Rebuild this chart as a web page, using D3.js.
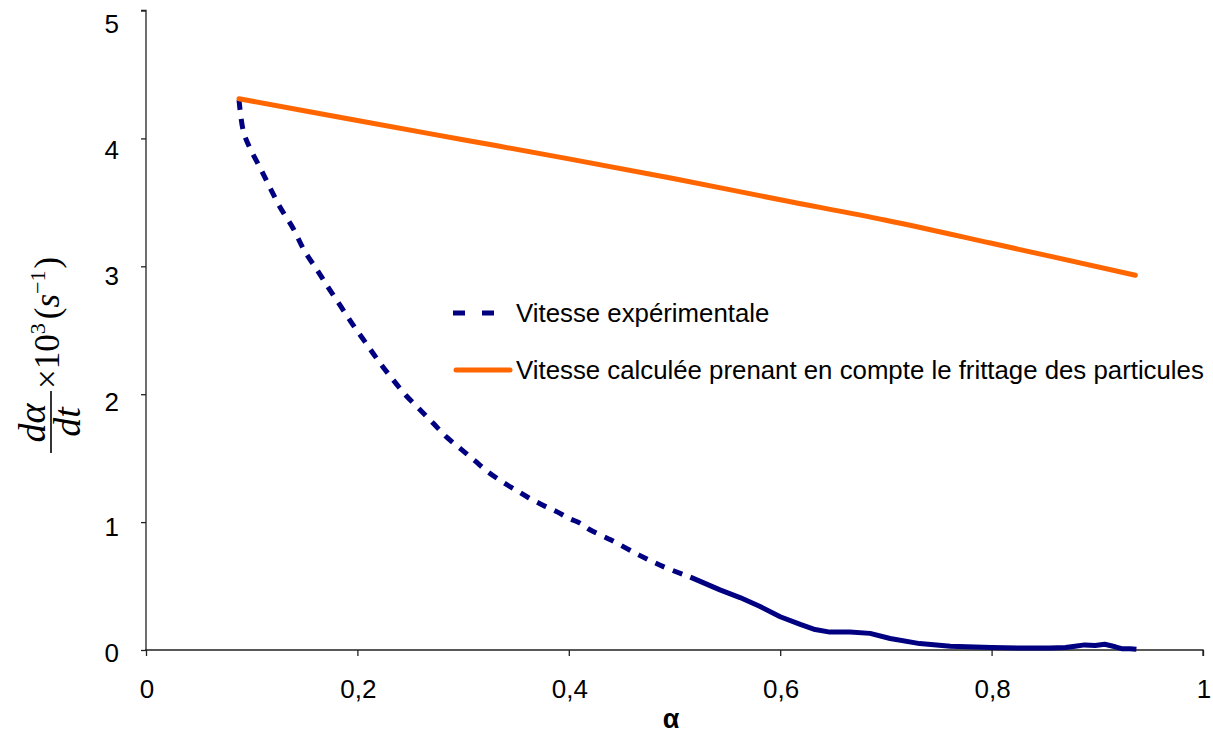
<!DOCTYPE html>
<html>
<head>
<meta charset="utf-8">
<script src="https://cdn.jsdelivr.net/npm/d3@7"></script>
<style>
  html, body { margin: 0; padding: 0; background: #ffffff; }
  svg { display: block; }
  .tick-label { font-family: "Liberation Sans", Arial, sans-serif; font-size: 26px; fill: #000; }
  .legend-label { font-family: "Liberation Sans", Arial, sans-serif; font-size: 25.8px; fill: #000; }
  .math { font-family: "Liberation Serif", "Times New Roman", serif; font-style: italic; fill: #000; }
  .math-up { font-family: "Liberation Serif", "Times New Roman", serif; font-style: normal; fill: #000; }
</style>
</head>
<body>
<svg id="chart" width="1213" height="733"></svg>
<script>
// Measured rate dα/dt (×10³ s⁻¹) against conversion α
const expAlpha = [0.088, 0.092, 0.098, 0.108, 0.117, 0.127, 0.139, 0.150, 0.162, 0.172,
  0.184, 0.196, 0.208, 0.220, 0.233, 0.246, 0.259, 0.272, 0.285, 0.298,
  0.311, 0.324, 0.338, 0.350, 0.362, 0.376, 0.389, 0.400, 0.411, 0.420,
  0.440, 0.467, 0.490, 0.515, 0.543, 0.562, 0.581, 0.600, 0.619, 0.633,
  0.647, 0.666, 0.685, 0.704, 0.732, 0.761, 0.800, 0.830, 0.855, 0.870,
  0.879, 0.888, 0.898, 0.907, 0.917, 0.923, 0.931, 0.937];
const expRate = [4.30, 4.06, 3.93, 3.77, 3.62, 3.46, 3.30, 3.12, 2.97, 2.84,
  2.69, 2.54, 2.40, 2.26, 2.12, 1.99, 1.88, 1.77, 1.66, 1.57,
  1.48, 1.39, 1.31, 1.25, 1.19, 1.13, 1.08, 1.03, 0.99, 0.94,
  0.86, 0.74, 0.65, 0.57, 0.47, 0.41, 0.34, 0.26, 0.20, 0.16,
  0.14, 0.14, 0.13, 0.09, 0.05, 0.03, 0.02, 0.015, 0.015, 0.02,
  0.03, 0.04, 0.035, 0.045, 0.025, 0.01, 0.01, 0.005];

// Rate computed with particle sintering taken into account
const calcAlpha = [0.088, 0.2, 0.3, 0.4, 0.5, 0.6, 0.7, 0.8, 0.936];
const calcRate = [4.31, 4.14, 3.99, 3.84, 3.685, 3.52, 3.36, 3.18, 2.93];

// Beyond this conversion the measured points sit so close together that the dashes merge
const dashedUntil = 0.515;

const xTicks = [0, 0.2, 0.4, 0.6, 0.8, 1];
const xTickLabels = ["0", "0,2", "0,4", "0,6", "0,8", "1"];
const yTicks = [0, 1, 2, 3, 4, 5];
const yTickLabels = ["0", "1", "2", "3", "4", "5"];

const seriesNames = ["Vitesse expérimentale",
  "Vitesse calculée prenant en compte le frittage des particules"];
const xTitle = "α";

const svg = d3.select("#chart");

const x = d3.scaleLinear().domain([0, 1]).range([146, 1203]);
const y = d3.scaleLinear().domain([0, 5]).range([650, 10.5]);
// tick labels sit on a slightly compressed ladder
const yLabel = d3.scaleLinear().domain([0, 5]).range([653, 24]);

// axes
const xAxis = d3.axisBottom(x).tickValues(xTicks).tickSize(6).tickFormat("");
const yAxis = d3.axisLeft(y).tickValues(yTicks).tickSize(5).tickFormat("");

const gx = svg.append("g").attr("transform", `translate(0,${y(0)})`).call(xAxis);
const gy = svg.append("g").attr("transform", `translate(${x(0)},0)`).call(yAxis);
[gx, gy].forEach(g => {
  g.select(".domain").attr("stroke", "#222").attr("stroke-width", 1.3);
  g.selectAll(".tick line").attr("stroke", "#222").attr("stroke-width", 1.3);
});
gy.select(".domain").attr("d", `M-5,${y(5)}H0V${y(0)}`);
gx.select(".domain").attr("d", `M${x(0) - 1},0H${x(1)}V6`);

svg.append("g").selectAll("text").data(xTicks).join("text")
  .attr("class", "tick-label")
  .attr("x", d => x(d) + 1)
  .attr("y", 698)
  .attr("text-anchor", "middle")
  .text((d, i) => xTickLabels[i]);

svg.append("g").selectAll("text").data(yTicks).join("text")
  .attr("class", "tick-label")
  .attr("x", 119)
  .attr("y", d => yLabel(d))
  .attr("dy", "0.35em")
  .attr("text-anchor", "end")
  .text((d, i) => yTickLabels[i]);

// x axis title
svg.append("text")
  .attr("x", 671).attr("y", 728)
  .attr("text-anchor", "middle")
  .style("font-family", "'Liberation Sans', Arial, sans-serif")
  .style("font-size", "27px").style("font-weight", "bold")
  .text(xTitle);

// y axis title: dα/dt ×10³ (s⁻¹), written upward
const yt = svg.append("g").attr("transform", "translate(51,457) rotate(-90)");
yt.append("text").attr("class", "math").attr("x", 34).attr("y", -6)
  .attr("text-anchor", "middle").style("font-size", "38px").text("dα");
yt.append("line").attr("x1", 4).attr("x2", 66).attr("y1", 0).attr("y2", 0)
  .attr("stroke", "#000").attr("stroke-width", 1.6);
yt.append("text").attr("class", "math").attr("x", 35).attr("y", 29)
  .attr("text-anchor", "middle").style("font-size", "38px").text("dt");
const rest = yt.append("text").attr("class", "math-up").attr("x", 68).attr("y", 8)
  .style("font-size", "35px");
rest.append("tspan").text("×10");
rest.append("tspan").attr("dy", -14).style("font-size", "22px").text("3");
rest.append("tspan").attr("dy", 14).attr("dx", 4).text("(");
rest.append("tspan").attr("class", "math").style("font-style", "italic").text("s");
rest.append("tspan").attr("dy", -14).style("font-size", "22px").text("−1");
rest.append("tspan").attr("dy", 14).attr("dx", 2).text(")");

// series
const expPts = expAlpha.map((a, i) => [a, expRate[i]]);
const calcPts = calcAlpha.map((a, i) => [a, calcRate[i]]);
const lineLin = d3.line().x(d => x(d[0])).y(d => y(d[1]));

svg.append("path")
  .datum(expPts.filter(d => d[0] <= dashedUntil))
  .attr("d", d3.line().x(d => x(d[0])).y(d => y(d[1])).curve(d3.curveCatmullRom))
  .attr("fill", "none").attr("stroke", "#000080")
  .attr("stroke-width", 5).attr("stroke-dasharray", "10,9");

svg.append("path")
  .datum(expPts.filter(d => d[0] >= dashedUntil))
  .attr("d", lineLin)
  .attr("fill", "none").attr("stroke", "#000080")
  .attr("stroke-width", 5).attr("stroke-linejoin", "round");

svg.append("path")
  .datum(calcPts)
  .attr("d", d3.line().x(d => x(d[0])).y(d => y(d[1])).curve(d3.curveCatmullRom))
  .attr("fill", "none").attr("stroke", "#FF6600")
  .attr("stroke-width", 5).attr("stroke-linecap", "round").attr("stroke-linejoin", "round");

// legend
const legend = svg.append("g");
legend.append("line").attr("x1", 453).attr("x2", 495).attr("y1", 313).attr("y2", 313)
  .attr("stroke", "#000080").attr("stroke-width", 5).attr("stroke-dasharray", "12,17");
legend.append("line").attr("x1", 456).attr("x2", 510).attr("y1", 370).attr("y2", 370)
  .attr("stroke", "#FF6600").attr("stroke-width", 5).attr("stroke-linecap", "round");
legend.selectAll("text").data(seriesNames).join("text")
  .attr("class", "legend-label")
  .attr("x", 516)
  .attr("y", (d, i) => 322 + i * 57)
  .text(d => d);
</script>
</body>
</html>
